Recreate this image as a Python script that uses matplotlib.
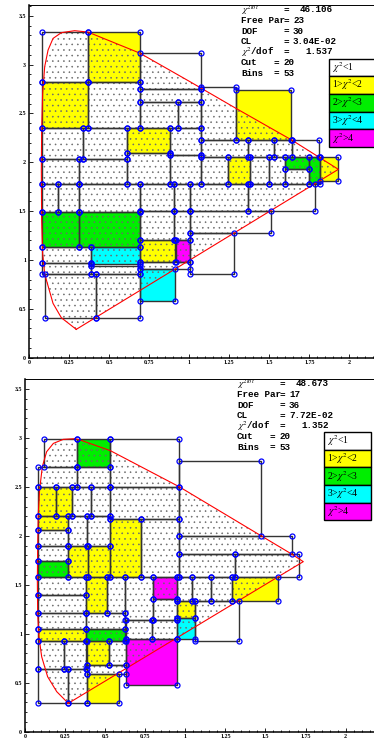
import matplotlib
matplotlib.use('Agg')
import matplotlib.pyplot as plt
from matplotlib.patches import Rectangle, Polygon
from matplotlib.ticker import MultipleLocator, FixedLocator, FixedFormatter
import numpy as np

plt.rcParams['mathtext.fontset'] = 'stix'
plt.rcParams['hatch.linewidth'] = 0.4

W, H = 374, 741

CLASS_COLORS = ['#ffffff', '#ffff00', '#00ee00', '#00ffff', '#ff00ff']
LEGEND_LABELS = [r'$\chi^2$<1', r'1>$\chi^2$<2', r'2>$\chi^2$<3', r'3>$\chi^2$<4', r'$\chi^2$>4']

XTICKS = [0, 0.25, 0.5, 0.75, 1, 1.25, 1.5, 1.75, 2]
XTICKLABELS = ['0', '0.25', '0.5', '0.75', '1', '1.25', '1.5', '1.75', '2']
YTICKS = [0, 0.5, 1, 1.5, 2, 2.5, 3, 3.5]
YTICKLABELS = ['0', '0.5', '1', '1.5', '2', '2.5', '3', '3.5']

# ---------------- top panel bins ----------------
top_x0 = [0.079, 0.368, 0.691, 0.079, 0.368, 0.691, 0.691, 0.928, 0.079, 0.337,
          0.614, 0.878, 0.614, 0.878, 0.079, 0.312, 0.079, 0.179, 0.312, 0.691,
          0.903, 1.003, 1.367, 0.079, 0.312, 0.691, 0.903, 1.003, 1.003, 0.079,
          0.389, 0.691, 0.918, 0.691, 0.691, 0.079, 0.389, 0.098, 0.418, 1.072,
          1.292, 1.072, 1.367, 1.529, 1.642, 1.072, 1.240, 1.380, 1.498, 1.596,
          1.596, 1.748, 1.816]
top_y0 = [2.818, 2.818, 2.750, 2.347, 2.347, 2.613, 2.347, 2.347, 2.030, 2.030,
          2.098, 2.074, 1.778, 1.778, 1.778, 1.778, 1.490, 1.490, 1.490, 1.505,
          1.505, 1.505, 1.505, 1.129, 1.129, 1.204, 1.204, 1.279, 0.856, 0.966,
          0.955, 0.976, 0.976, 0.904, 0.580, 0.856, 0.856, 0.409, 0.409, 2.228,
          2.228, 2.050, 2.050, 2.050, 2.050, 1.778, 1.778, 1.778, 1.778, 1.928,
          1.778, 1.778, 1.812]
top_x1 = [0.368, 0.691, 1.072, 0.368, 0.691, 1.072, 0.928, 1.072, 0.337, 0.614,
          0.878, 1.072, 0.878, 1.072, 0.312, 0.614, 0.179, 0.312, 0.691, 0.903,
          1.003, 1.367, 1.783, 0.312, 0.691, 0.903, 1.003, 1.511, 1.282, 0.389,
          0.691, 0.910, 1.003, 1.003, 0.909, 0.389, 0.691, 0.418, 0.691, 1.292,
          1.633, 1.367, 1.529, 1.642, 1.808, 1.240, 1.380, 1.498, 1.596, 1.748,
          1.748, 1.816, 1.931]
top_y1 = [3.333, 3.333, 3.118, 2.818, 2.818, 2.750, 2.613, 2.613, 2.347, 2.347,
          2.347, 2.347, 2.098, 2.074, 2.030, 2.030, 1.778, 1.778, 1.778, 1.778,
          1.778, 1.778, 1.778, 1.490, 1.490, 1.505, 1.505, 1.505, 1.279, 1.129,
          1.129, 1.204, 1.204, 0.976, 0.904, 0.966, 0.938, 0.856, 0.856, 2.774,
          2.740, 2.228, 2.228, 2.228, 2.228, 2.050, 2.050, 2.050, 2.050, 2.050,
          1.928, 2.050, 2.050]
top_cls = [0, 1, 0, 1, 0, 0, 0, 0, 0, 0,
           1, 0, 0, 0, 0, 0, 0, 0, 0, 0,
           0, 0, 0, 2, 2, 0, 0, 0, 0, 0,
           3, 1, 4, 0, 3, 0, 0, 0, 0, 0,
           1, 0, 0, 0, 0, 0, 1, 0, 0, 2,
           0, 2, 1]

top_bound_x = [0.295, 0.202, 0.150, 0.098, 0.085, 0.079, 0.077, 0.079, 0.085, 0.098,
               0.119, 0.150, 0.202, 0.285, 0.368, 0.691, 1.005, 1.292, 1.640, 1.931, 0.295]
top_bound_y = [0.290, 0.409, 0.556, 0.856, 1.068, 1.409, 1.921, 2.330, 2.706, 2.979,
               3.149, 3.268, 3.327, 3.347, 3.333, 3.118, 2.825, 2.552, 2.228, 1.928, 0.290]

top_stat_labels = [r'$\chi^{2tot}$', 'Free Par', 'DOF', 'CL', r'$\chi^2$/dof', 'Cut', 'Bins']
top_stat_values = ['46.106', '23', '30', '3.04E-02', '1.537', '20', '53']

# ---------------- bottom panel bins ----------------
bot_x0 = [0.116, 0.326, 0.532, 0.079, 0.326, 0.079, 0.191, 0.293, 0.412, 0.532,
          0.079, 0.268, 0.389, 0.532, 0.724, 0.079, 0.079, 0.079, 0.268, 0.391,
          0.079, 0.079, 0.381, 0.509, 0.624, 0.801, 0.796, 0.790, 0.628, 0.079,
          0.381, 0.079, 0.381, 0.079, 0.245, 0.389, 0.526, 0.389, 0.079, 0.268,
          0.389, 0.632, 0.963, 0.963, 0.963, 1.312, 0.946, 1.044, 1.160, 1.291,
          0.946, 0.946, 1.061]
bot_y0 = [2.704, 2.704, 2.503, 2.503, 2.503, 2.207, 2.207, 2.207, 2.207, 2.173,
          2.057, 1.900, 1.900, 1.577, 1.577, 1.900, 1.740, 1.577, 1.577, 1.577,
          1.400, 1.209, 1.209, 1.209, 1.141, 1.352, 1.141, 0.943, 0.943, 1.052,
          1.052, 0.930, 0.930, 0.637, 0.637, 0.678, 0.678, 0.586, 0.293, 0.293,
          0.293, 0.474, 2.002, 1.815, 1.577, 1.577, 1.335, 1.335, 1.335, 1.335,
          1.158, 0.943, 0.926]
bot_x1 = [0.326, 0.532, 0.963, 0.326, 0.532, 0.191, 0.293, 0.412, 0.532, 0.963,
          0.268, 0.389, 0.532, 0.724, 0.963, 0.268, 0.268, 0.268, 0.391, 0.532,
          0.381, 0.381, 0.509, 0.624, 0.801, 0.946, 0.946, 0.946, 0.790, 0.381,
          0.624, 0.381, 0.624, 0.245, 0.381, 0.526, 0.632, 0.632, 0.268, 0.389,
          0.588, 0.946, 1.472, 1.664, 1.312, 1.709, 1.044, 1.160, 1.291, 1.576,
          1.061, 1.061, 1.337]
bot_y1 = [2.990, 2.990, 2.990, 2.704, 2.704, 2.503, 2.503, 2.503, 2.503, 2.503,
          2.207, 2.207, 2.207, 2.173, 2.173, 2.057, 1.900, 1.740, 1.900, 1.900,
          1.577, 1.400, 1.577, 1.577, 1.577, 1.577, 1.352, 1.141, 1.141, 1.209,
          1.209, 1.052, 1.052, 0.930, 0.930, 0.930, 0.930, 0.678, 0.637, 0.637,
          0.586, 0.943, 2.768, 2.002, 1.815, 1.815, 1.577, 1.577, 1.577, 1.577,
          1.335, 1.158, 1.335]
bot_cls = [0, 2, 0, 0, 0, 1, 1, 0, 0, 0,
           1, 0, 0, 1, 0, 0, 0, 2, 1, 1,
           0, 0, 1, 0, 0, 4, 0, 0, 0, 0,
           0, 1, 2, 0, 0, 1, 0, 0, 0, 0,
           1, 4, 0, 0, 0, 0, 0, 0, 0, 1,
           1, 3, 0]

bot_bound_x = [0.270, 0.198, 0.141, 0.104, 0.087, 0.079, 0.077, 0.079, 0.083, 0.091,
               0.108, 0.135, 0.177, 0.239, 0.312, 0.343, 0.532, 0.961, 1.472, 1.663,
               1.736, 0.270]
bot_bound_y = [0.290, 0.409, 0.562, 0.766, 0.971, 1.209, 1.549, 1.890, 2.230, 2.468,
               2.707, 2.860, 2.945, 2.986, 2.993, 2.980, 2.871, 2.503, 2.002, 1.815,
               1.737, 0.290]

bot_stat_labels = [r'$\chi^{2tot}$', 'Free Par', 'DOF', 'CL', r'$\chi^2$/dof', 'Cut', 'Bins']
bot_stat_values = ['48.673', '17', '36', '7.72E-02', '1.352', '20', '53']


def fx(px):
    return px / W


def fy(py):
    return 1 - py / H


fig = plt.figure(figsize=(W / 100, H / 100), dpi=100)


def make_axes(left_px, bottom_px, top_px, xscale, yscale):
    right_px = 1.01 * W
    ax = fig.add_axes([fx(left_px), fy(bottom_px), fx(right_px) - fx(left_px),
                       fy(top_px) - fy(bottom_px)])
    ax.set_xlim(0, (right_px - left_px) / xscale)
    ax.set_ylim(0, (bottom_px - top_px) / yscale)
    ax.xaxis.set_major_locator(FixedLocator(XTICKS))
    ax.xaxis.set_major_formatter(FixedFormatter(XTICKLABELS))
    ax.yaxis.set_major_locator(FixedLocator(YTICKS))
    ax.yaxis.set_major_formatter(FixedFormatter(YTICKLABELS))
    ax.xaxis.set_minor_locator(MultipleLocator(0.05))
    ax.yaxis.set_minor_locator(MultipleLocator(0.1))
    ax.tick_params(which='both', direction='in', top=False, right=False,
                   labelsize=4.3, width=0.6)
    ax.tick_params(which='major', length=3, pad=2)
    ax.tick_params(which='minor', length=1.5)
    for lab in ax.get_xticklabels() + ax.get_yticklabels():
        lab.set_fontfamily('Liberation Serif')
        lab.set_fontweight('bold')
    ax.spines['right'].set_visible(False)
    ax.spines['left'].set_linewidth(1.1)
    ax.spines['bottom'].set_linewidth(1.1)
    ax.spines['top'].set_linewidth(0.7)
    return ax


def draw_panel(ax, x0, y0, x1, y1, cls, bx, by):
    for a, b, c, d, k in zip(x0, y0, x1, y1, cls):
        ax.add_patch(Rectangle((a, b), c - a, d - b, facecolor=CLASS_COLORS[k],
                               edgecolor='none', zorder=1))
    ax.add_patch(Polygon(np.column_stack([bx, by]), closed=True, facecolor='none',
                         edgecolor='#6a6a6a', lw=0, hatch='...', zorder=2))
    for a, b, c, d, k in zip(x0, y0, x1, y1, cls):
        ax.add_patch(Rectangle((a, b), c - a, d - b, facecolor='none',
                               edgecolor='#333333', lw=1.0, zorder=3))
    ax.plot(bx, by, color='red', lw=0.8, zorder=4)
    cx, cy = [], []
    for a, b, c, d in zip(x0, y0, x1, y1):
        cx += [a, c, a, c]
        cy += [b, b, d, d]
    ax.plot(cx, cy, 'o', ms=3.6, mfc='none', mec='#0000ff', mew=0.9, zorder=5,
            clip_on=False)


def draw_stats(labels, values, x_lab, x_eq, x_eq2, x_right, x_left, x_left2, y_first):
    kw = dict(fontfamily='Liberation Mono', fontweight='bold', fontsize=6.7,
              va='center', color='black')
    for i, (lab, val) in enumerate(zip(labels, values)):
        y = fy(y_first + i * 10.5)
        fig.text(fx(x_lab), y, lab, ha='left', **kw)
        if i >= 5:
            fig.text(fx(x_eq2), y, '=', ha='left', **kw)
            fig.text(fx(x_left2), y, val, ha='left', **kw)
        else:
            fig.text(fx(x_eq), y, '=', ha='left', **kw)
            if i in (0, 4):
                fig.text(fx(x_right), y, val, ha='right', **kw)
            else:
                fig.text(fx(x_left), y, val, ha='left', **kw)


def draw_legend(x_left, x_right, y_top, h):
    for i, (lab, col) in enumerate(zip(LEGEND_LABELS, CLASS_COLORS)):
        yt = y_top + i * h
        r = Rectangle((fx(x_left), fy(yt + h)), fx(x_right) - fx(x_left),
                      fy(yt) - fy(yt + h), transform=fig.transFigure,
                      facecolor=col, edgecolor='black', lw=1.0)
        fig.add_artist(r)
        fig.text(fx(x_left + 3), fy(yt + h / 2), lab, ha='left', va='center',
                 fontsize=7, fontfamily='Liberation Serif', color='black')


ax1 = make_axes(29, 357.7, 5, 160.2, 97.7)
draw_panel(ax1, top_x0, top_y0, top_x1, top_y1, top_cls, top_bound_x, top_bound_y)
draw_stats(top_stat_labels, top_stat_values, 241, 284, 273, 333, 293, 284, 10)
draw_legend(329, 380, 58.5, 17.7)

ax2 = make_axes(25, 731.7, 379, 160.3, 97.9)
draw_panel(ax2, bot_x0, bot_y0, bot_x1, bot_y1, bot_cls, bot_bound_x, bot_bound_y)
draw_stats(bot_stat_labels, bot_stat_values, 237, 280, 269, 329, 289, 280, 384)
draw_legend(324, 371, 432, 17.65)

fig.savefig('out.png', dpi=100)
